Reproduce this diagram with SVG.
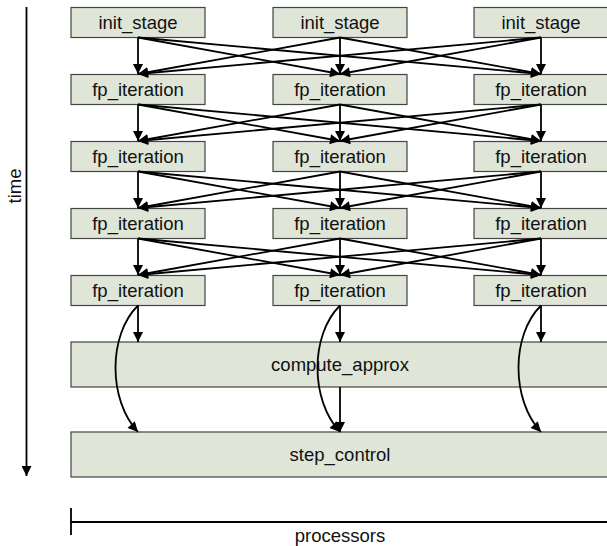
<svg xmlns="http://www.w3.org/2000/svg" width="607" height="546" viewBox="0 0 607 546">
<style>
.box{fill:#dfe6d8;stroke:#444;stroke-width:1.2}
.lbl{font-family:"Liberation Sans",Arial,sans-serif;font-size:18.5px;fill:#111;text-anchor:middle}
.con{fill:none;stroke:#000;stroke-width:1.8;marker-end:url(#ah)}
.ax{fill:none;stroke:#000;stroke-width:1.8}
</style>
<defs>
<marker id="ah" viewBox="0 0 10 10" refX="10" refY="5" markerWidth="11" markerHeight="10" markerUnits="userSpaceOnUse" orient="auto">
<path d="M0,0 L10,5 L0,10 z" fill="#000"/>
</marker>
</defs>
<rect width="607" height="546" fill="#fff"/>

<g id="init1"><rect class="box" x="71" y="7.5" width="134" height="30"/><text class="lbl" x="138" y="29">init_stage</text></g>
<g id="init2"><rect class="box" x="273" y="7.5" width="134" height="30"/><text class="lbl" x="340" y="29">init_stage</text></g>
<g id="init3"><rect class="box" x="474" y="7.5" width="134" height="30"/><text class="lbl" x="541" y="29">init_stage</text></g>

<g id="fp1a"><rect class="box" x="71" y="74.5" width="134" height="30"/><text class="lbl" x="138" y="96">fp_iteration</text></g>
<g id="fp2a"><rect class="box" x="273" y="74.5" width="134" height="30"/><text class="lbl" x="340" y="96">fp_iteration</text></g>
<g id="fp3a"><rect class="box" x="474" y="74.5" width="134" height="30"/><text class="lbl" x="541" y="96">fp_iteration</text></g>

<g id="fp1b"><rect class="box" x="71" y="141.5" width="134" height="30"/><text class="lbl" x="138" y="163">fp_iteration</text></g>
<g id="fp2b"><rect class="box" x="273" y="141.5" width="134" height="30"/><text class="lbl" x="340" y="163">fp_iteration</text></g>
<g id="fp3b"><rect class="box" x="474" y="141.5" width="134" height="30"/><text class="lbl" x="541" y="163">fp_iteration</text></g>

<g id="fp1c"><rect class="box" x="71" y="208.5" width="134" height="30"/><text class="lbl" x="138" y="230">fp_iteration</text></g>
<g id="fp2c"><rect class="box" x="273" y="208.5" width="134" height="30"/><text class="lbl" x="340" y="230">fp_iteration</text></g>
<g id="fp3c"><rect class="box" x="474" y="208.5" width="134" height="30"/><text class="lbl" x="541" y="230">fp_iteration</text></g>

<g id="fp1d"><rect class="box" x="71" y="275.5" width="134" height="30"/><text class="lbl" x="138" y="297">fp_iteration</text></g>
<g id="fp2d"><rect class="box" x="273" y="275.5" width="134" height="30"/><text class="lbl" x="340" y="297">fp_iteration</text></g>
<g id="fp3d"><rect class="box" x="474" y="275.5" width="134" height="30"/><text class="lbl" x="541" y="297">fp_iteration</text></g>

<g id="compute_approx"><rect class="box" x="71" y="342" width="540" height="45"/><text class="lbl" x="340" y="371">compute_approx</text></g>
<g id="step_control"><rect class="box" x="71" y="432" width="540" height="45"/><text class="lbl" x="340" y="461">step_control</text></g>

<g id="connectors">
<path class="con" d="M138,37.5 L138,74"/><path class="con" d="M138,37.5 L340,74"/><path class="con" d="M138,37.5 L541,74"/>
<path class="con" d="M340,37.5 L138,74"/><path class="con" d="M340,37.5 L340,74"/><path class="con" d="M340,37.5 L541,74"/>
<path class="con" d="M541,37.5 L138,74"/><path class="con" d="M541,37.5 L340,74"/><path class="con" d="M541,37.5 L541,74"/>
<path class="con" d="M138,104.5 L138,141"/><path class="con" d="M138,104.5 L340,141"/><path class="con" d="M138,104.5 L541,141"/>
<path class="con" d="M340,104.5 L138,141"/><path class="con" d="M340,104.5 L340,141"/><path class="con" d="M340,104.5 L541,141"/>
<path class="con" d="M541,104.5 L138,141"/><path class="con" d="M541,104.5 L340,141"/><path class="con" d="M541,104.5 L541,141"/>
<path class="con" d="M138,171.5 L138,208"/><path class="con" d="M138,171.5 L340,208"/><path class="con" d="M138,171.5 L541,208"/>
<path class="con" d="M340,171.5 L138,208"/><path class="con" d="M340,171.5 L340,208"/><path class="con" d="M340,171.5 L541,208"/>
<path class="con" d="M541,171.5 L138,208"/><path class="con" d="M541,171.5 L340,208"/><path class="con" d="M541,171.5 L541,208"/>
<path class="con" d="M138,238.5 L138,275"/><path class="con" d="M138,238.5 L340,275"/><path class="con" d="M138,238.5 L541,275"/>
<path class="con" d="M340,238.5 L138,275"/><path class="con" d="M340,238.5 L340,275"/><path class="con" d="M340,238.5 L541,275"/>
<path class="con" d="M541,238.5 L138,275"/><path class="con" d="M541,238.5 L340,275"/><path class="con" d="M541,238.5 L541,275"/>
<path class="con" d="M138,305.5 L138,342"/><path class="con" d="M340,305.5 L340,342"/><path class="con" d="M541,305.5 L541,342"/>
<path class="con" d="M138,305.5 C108,335 108,400 138,432"/>
<path class="con" d="M340,305.5 C310,335 310,400 340,432"/>
<path class="con" d="M541,305.5 C511,335 511,400 541,432"/>
<path class="con" d="M340,387 L340,432"/>
</g>

<g id="time_axis">
<path class="ax" d="M26.5,7 L26.5,476" marker-end="url(#ah)"/>
<text class="lbl" transform="translate(21,186) rotate(-90)">time</text>
</g>
<g id="processors_axis">
<path class="ax" d="M71,522 L607,522 M71,508 L71,535"/>
<text class="lbl" x="340" y="542">processors</text>
</g>
</svg>
